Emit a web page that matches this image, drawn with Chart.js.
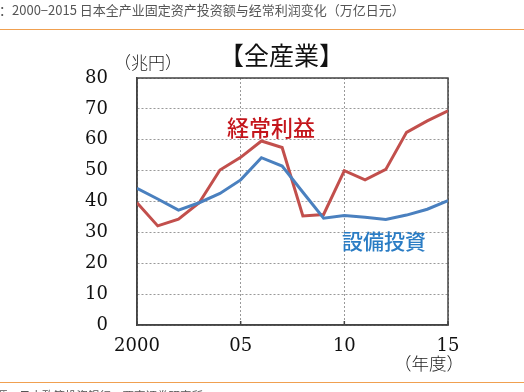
<!DOCTYPE html>
<html>
<head>
<meta charset="utf-8">
<script src="https://cdn.jsdelivr.net/npm/chart.js@4/dist/chart.umd.min.js"></script>
<style>
  body { margin: 0; background: #fff; }
  #wrap { position: relative; width: 524px; height: 392px; overflow: hidden; }
  #chart { position: absolute; left: 0; top: 0; }
  .t { position: absolute; white-space: nowrap; font-family: "Noto Sans CJK JP", sans-serif; }
  .rule { position: absolute; left: 0; width: 524px; height: 1px; background: #f0a050; }
</style>
</head>
<body>
<div id="wrap">
  <canvas id="chart" width="524" height="392"></canvas>
  <div class="t" style="left:-1px;top:2px;font-family:'Noto Sans CJK SC';font-size:13px;line-height:15px;color:#555">：2000−2015 日本全产业固定资产投资额与经常利润变化（万亿日元）</div>
  <div class="rule" style="top:29px"></div>
  <div class="rule" style="top:382px"></div>
  <div class="t" style="left:-4px;top:389px;font-family:'Noto Sans CJK SC';font-size:11.5px;line-height:12px;color:#555">源：日本政策投资银行，西南证券研究所</div>
  <div class="t" style="left:219px;top:41px;font-size:25px;line-height:26px;font-weight:400;color:#111">【全産業】</div>
  <div class="t" style="left:114px;top:53px;font-size:17px;line-height:18px;font-weight:300;color:#222">（兆円）</div>
  <div class="t" style="left:227px;top:115px;font-size:22px;line-height:23px;font-weight:500;color:#c4161c">経常利益</div>
  <div class="t" style="left:342px;top:229px;font-size:21px;line-height:22px;font-weight:500;color:#2a7cc4">設備投資</div>
  <div class="t" style="left:394px;top:354px;font-size:17.5px;line-height:18px;font-weight:300;color:#222">（年度）</div>
</div>
<script>
// Data
const years = [2000, 2001, 2002, 2003, 2004, 2005, 2006, 2007, 2008, 2009, 2010, 2011, 2012, 2013, 2014, 2015];
const capex = [44.3, 40.8, 37.2, 39.6, 42.6, 47.0, 54.2, 51.5, 43.0, 34.6, 35.5, 34.9, 34.2, 35.6, 37.5, 40.3];
const profit = [39.6, 32.1, 34.3, 39.6, 50.2, 54.3, 59.6, 57.5, 35.3, 35.8, 50.0, 47.0, 50.4, 62.4, 66.1, 69.4];
const xTickLabels = ["2000", "05", "10", "15"];
const yTicks = [0, 10, 20, 30, 40, 50, 60, 70, 80];

function toPoints(values) {
  return values.map((v, i) => ({ x: years[i], y: v }));
}

// Frame round the plot area, with short inner ticks on the bottom edge
const boxPlugin = {
  id: "box",
  beforeDatasetsDraw(chart) {
    const { ctx, chartArea: a } = chart;
    ctx.save();
    ctx.strokeStyle = "#444";
    ctx.lineWidth = 1.5;
    ctx.strokeRect(a.left, a.top, a.right - a.left, a.bottom - a.top);
    chart.scales.x.ticks.forEach((t) => {
      const px = chart.scales.x.getPixelForValue(t.value);
      ctx.beginPath();
      ctx.moveTo(px, a.bottom);
      ctx.lineTo(px, a.bottom - 4);
      ctx.stroke();
    });
    ctx.restore();
  },
};

const tickFont = { family: "DejaVu Serif", size: 18 };

new Chart(document.getElementById("chart"), {
  type: "line",
  data: {
    datasets: [
      {
        label: "設備投資",
        data: toPoints(capex),
        borderColor: "#4a80bf",
        borderWidth: 3,
        pointRadius: 0,
        tension: 0,
      },
      {
        label: "経常利益",
        data: toPoints(profit),
        borderColor: "#c24f4c",
        borderWidth: 3,
        pointRadius: 0,
        tension: 0,
      },
    ],
  },
  options: {
    responsive: false,
    animation: false,
    layout: { padding: { left: 0, top: 78, right: 76, bottom: 0 } },
    plugins: { legend: { display: false }, tooltip: { enabled: false } },
    scales: {
      x: {
        type: "linear",
        min: years[0],
        max: years[years.length - 1],
        afterFit: (scale) => { scale.height = 67; },
        ticks: {
          stepSize: 5,
          padding: 11,
          color: "#111",
          font: tickFont,
          maxRotation: 0,
          callback: (value) => xTickLabels[(value - years[0]) / 5],
        },
        grid: { color: "#999", lineWidth: 1, drawTicks: false },
        border: { color: "#444", width: 1.5, dash: [2, 2] },
      },
      y: {
        min: yTicks[0],
        max: yTicks[yTicks.length - 1],
        afterFit: (scale) => { scale.width = 137; },
        afterBuildTicks: (scale) => { scale.ticks = yTicks.map((v) => ({ value: v })); },
        ticks: { padding: 29, color: "#111", font: tickFont },
        grid: { color: "#999", lineWidth: 1, drawTicks: false },
        border: { color: "#444", width: 1.5, dash: [2, 2] },
      },
    },
  },
  plugins: [boxPlugin],
});
</script>
</body>
</html>
